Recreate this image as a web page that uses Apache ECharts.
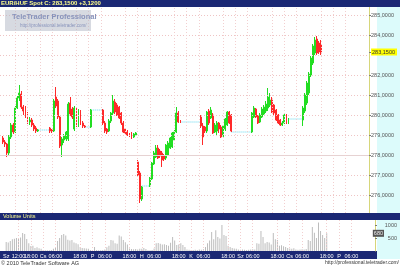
<!DOCTYPE html>
<html><head><meta charset="utf-8">
<script src="https://cdn.jsdelivr.net/npm/echarts@6/dist/echarts.min.js"></script>
<style>html,body{margin:0;padding:0;background:#fff}#c{width:400px;height:266px}</style>
</head><body><div id="c"></div>
<script>
// ---- data ----
const title = 'EUR/HUF Spot C: 283,1500 +3,1200';
const dayNames = ['Sz','Cs','P','H','K','Sz','Cs','P'];
const firstHour = 5, lastHour = 17;
const priceTicks = [276,277,278,279,280,281,282,284,285];
const priceGrid = [276,277,278,279,280,281,282,283,284,285];
const lastPrice = 283.15;
const volTicks = [500,1000];
const lastVolume = 680;
const extraTimeLabels = [[1,'Sz'],[7,'12:00']];
// [open, close, low, high] per hour slot, '-' = no trading
const ohlc = [
 '-',
 [278.85,278.65,278.55,278.95],[278.65,278.55,278.4,278.75],[278.55,278.1,277.9,278.6],[278.1,278.9,278.0,279.0],
 [278.9,279.5,278.8,279.6],[279.5,279.15,279.05,279.6],[279.15,280.35,279.1,280.45],[280.35,280.85,280.3,280.95],
 [280.85,281.1,280.7,281.5],[281.05,280.4,280.3,281.2],[280.4,280.2,280.0,280.5],[280.3,279.95,279.85,280.45],
 [280.0,279.65,279.55,280.15],[279.65,279.75,279.5,279.9],[279.75,279.5,279.4,279.85],[279.5,279.3,279.2,279.6],
 [279.35,279.2,279.1,279.45],[279.2,279.25,279.15,279.3],
 '-','-','-','-','-',
 [279.35,279.2,279.1,279.4],[279.25,279.2,279.1,279.3],[279.2,280.7,279.15,280.8],[280.9,280.45,280.35,281.4],
 [280.7,279.9,279.8,280.8],[279.9,278.45,278.35,279.95],[278.5,278.8,277.9,278.9],[278.75,278.95,278.6,279.05],
 [278.8,279.15,278.7,279.2],[278.8,280.55,278.7,280.65],[280.6,280.05,279.95,280.9],[280.3,279.9,279.8,280.4],
 [279.3,280.35,279.2,280.45],[280.3,279.45,279.4,280.35],[279.45,280.2,279.4,280.3],[280.2,279.6,279.5,280.25],
 [279.6,279.45,279.35,279.7],[279.45,279.4,279.35,279.5],
 '-','-',
 [279.4,280.25,279.35,280.3],
 '-','-','-','-','-',
 [280.25,279.6,279.5,280.3],[279.6,279.2,279.1,279.7],[279.3,279.15,279.05,279.35],[279.2,279.7,279.15,279.8],
 [279.7,280.1,279.6,280.15],[280.1,280.7,280.0,281.0],[280.65,280.15,280.05,280.8],[280.5,280.0,279.95,280.6],
 [280.4,279.85,279.8,280.45],[280.1,279.6,279.5,280.15],[279.6,279.15,279.1,279.7],[279.3,279.1,279.0,279.35],
 [279.15,279.0,278.95,279.25],[279.05,278.95,278.9,279.1],[279.1,278.85,278.8,279.15],[278.9,279.05,278.85,279.1],
 [279.0,279.1,278.95,279.15],
 [277.65,277.0,276.9,277.75],[277.1,275.8,275.6,277.2],[275.8,276.4,275.7,276.45],
 '-','-','-',
 [276.45,276.85,276.4,276.9],[276.8,277.6,276.75,277.65],[277.55,278.1,277.5,278.2],[277.9,278.35,277.85,278.5],
 [278.35,277.85,277.8,278.5],[278.2,277.95,277.85,278.3],[278.1,277.75,277.4,278.2],[277.95,277.8,277.7,278.05],
 [277.85,278.5,277.75,278.55],[278.0,278.6,277.95,278.7],[278.35,278.85,278.3,278.9],[278.4,279.1,278.35,279.15],
 [278.75,279.15,278.7,279.25],[279.15,280.1,279.1,280.4],[280.1,279.65,279.6,280.2],[279.7,279.65,279.6,279.75],
 '-','-','-','-','-','-','-','-','-',
 [279.9,279.45,279.35,280.0],[279.45,278.9,278.5,279.6],[279.4,279.2,279.1,279.45],[279.2,280.15,279.1,280.2],
 [280.2,279.6,279.5,280.3],[279.85,280.25,279.8,280.4],[280.0,279.1,279.05,280.1],[279.15,279.5,279.1,279.6],
 [279.2,279.6,279.0,279.7],[279.6,279.3,279.1,279.65],[279.4,278.9,278.85,279.5],[278.95,279.45,278.9,279.5],
 [279.3,279.8,279.2,279.85],[279.5,280.15,279.45,280.2],[280.15,279.6,279.55,280.2],[280.0,279.2,279.15,280.05],
 '-','-','-','-','-','-','-','-','-',
 [279.15,280.1,279.1,280.15],[279.9,280.35,279.85,280.45],[280.3,279.9,279.85,280.35],[279.95,279.6,279.55,280.0],
 [279.65,280.0,279.6,280.1],[279.9,280.3,279.85,280.4],[280.05,280.4,280.0,280.5],[280.2,280.55,280.1,280.7],
 [280.35,280.9,280.2,281.35],[280.5,280.75,280.4,281.1],[280.75,280.15,280.1,280.9],[280.5,280.1,280.0,280.55],
 [280.25,279.75,279.7,280.3],[280.0,279.6,279.55,280.05],[279.75,279.5,279.45,279.8],[279.5,279.6,279.45,279.7],
 [279.6,280.0,279.55,280.05],[280.0,279.6,279.55,280.05],[279.6,279.8,279.55,279.85],
 '-','-','-','-','-','-',
 [279.75,280.35,279.45,280.45],[280.2,281.0,280.1,281.1],[280.6,281.6,280.5,281.7],[281.1,282.05,281.0,282.15],
 [282.0,282.85,281.9,282.95],[282.6,283.45,282.5,283.55],[283.1,283.75,283.0,283.9],[283.8,283.1,283.0,283.95],
 [283.6,283.15,283.05,283.7],[283.5,283.15,283.0,283.75]
];
// flat no-trade stretches: [fromSlot, toSlot, price]
const gaps = [[18,24,279.25],[41,44,279.4],[44,50,280.25],[69,73,276.45],[88,98,279.65],[113,123,279.15],[141,148,279.8]];
const volume = [
 0,350,330,380,450,470,500,480,520,690,
 650,460,300,190,200,120,140,110,90,40,
 30,30,30,40,90,120,380,500,620,650,
 600,430,400,420,330,300,260,150,120,110,
 100,90,40,30,150,40,30,30,40,60,
 140,200,420,400,300,280,600,560,420,340,
 250,100,80,70,80,60,90,90,120,80,
 30,30,40,100,300,310,280,250,260,230,
 200,320,540,400,230,250,300,230,150,60,
 50,40,40,50,40,60,50,70,150,300,
 400,730,450,800,540,480,1000,620,580,200,
 150,120,100,90,60,50,60,50,40,50,
 60,70,60,300,280,770,540,300,350,330,
 250,690,450,420,200,220,180,150,120,100,
 90,110,60,50,60,70,60,80,420,380,
 920,700,500,1100,770,620,500,680
];

// ---- axis building ----
const categories = [];
const hourOf = [];
dayNames.forEach((d, i) => {
  const h0 = i === 0 ? firstHour : 0;
  const h1 = i === dayNames.length - 1 ? lastHour : 23;
  for (let h = h0; h <= h1; h++) {
    categories.push(d + ' ' + String(h).padStart(2, '0') + ':00');
    hourOf.push(h);
  }
});
const labelMap = {};
categories.forEach((c, i) => {
  const h = hourOf[i];
  if (h === 0) labelMap[i] = c.split(' ')[0];
  else if (h === 6 || h === 18) labelMap[i] = c.split(' ')[1];
});
extraTimeLabels.forEach(([i, t]) => { labelMap[i] = t; });
const gridSlots = Object.keys(labelMap).map(Number).filter(i => i !== 1);

const fmtPrice = v => v.toFixed(4).replace('.', ',');
const FONT = 'Liberation Sans';
const NAVY = '#1b2874';
const PANEL = '#dcfbfb';

const gapSeries = gaps.map(([a, b, p]) => ({
  type: 'line', xAxisIndex: 0, yAxisIndex: 0, data: [[a, p], [b, p]],
  symbol: 'none', silent: true, z: 1,
  lineStyle: { color: '#5fd8ee', width: 1, type: [1, 1] }
}));

const vLineStyle = { color: '#f2cfcf', width: 1, type: [1, 2] };

const option = {
  animation: false,
  backgroundColor: '#ffffff',
  grid: [
    { left: 0, right: 23, top: 7, height: 206 },
    { left: 0, right: 23, top: 220, height: 31 }
  ],
  xAxis: [
    { type: 'category', gridIndex: 0, data: categories, boundaryGap: true,
      axisLine: { show: false }, axisTick: { show: false }, axisLabel: { show: false }, splitLine: { show: false } },
    { type: 'category', gridIndex: 1, data: categories, boundaryGap: true,
      axisLine: { show: false }, axisTick: { show: false }, splitLine: { show: false },
      axisLabel: { show: true, interval: (i) => labelMap[i] !== undefined,
        formatter: (v, i) => labelMap[i] || '', color: '#ffffff', fontSize: 5.5, fontFamily: FONT, margin: 2 } }
  ],
  yAxis: [
    { type: 'value', gridIndex: 0, position: 'right', min: 275.1, max: 285.4,
      axisLine: { show: true, lineStyle: { color: '#d6d67a', width: 1 } },
      axisTick: { show: true, customValues: priceTicks.concat([lastPrice]), length: 2, lineStyle: { color: '#777' } },
      splitLine: { show: false },
      axisLabel: { customValues: priceTicks.concat([lastPrice]), margin: 2, fontSize: 5.5, fontFamily: FONT, color: '#555',
        formatter: v => Math.abs(v - lastPrice) < 1e-9 ? '{hl|' + fmtPrice(v) + '}' : fmtPrice(v),
        rich: { hl: { backgroundColor: '#ffff00', color: '#333', fontSize: 5.5, fontFamily: FONT, padding: [1, 2, 0, 1] } } } },
    { type: 'value', gridIndex: 1, position: 'right', min: 0, max: 1192,
      axisLine: { show: true, lineStyle: { color: '#d6d67a', width: 1 } },
      axisTick: { show: true, customValues: volTicks, length: 2, lineStyle: { color: '#777' } },
      splitLine: { show: false },
      axisLabel: { customValues: volTicks.concat([lastVolume]), margin: 22, align: 'right', fontSize: 5.5, fontFamily: FONT, color: '#555',
        formatter: v => v === lastVolume ? '{hl|' + v + '}{sp|}' : String(v),
        rich: { hl: { backgroundColor: '#555', color: '#eee', fontSize: 5.5, fontFamily: FONT, padding: [1, 1, 0, 1] }, sp: { width: 13 } } } }
  ],
  graphic: [
    { type: 'rect', shape: { x: 377, y: 7, width: 23, height: 252 }, style: { fill: PANEL }, z: -10, silent: true },
    { type: 'rect', shape: { x: 0, y: 0, width: 400, height: 7 }, style: { fill: NAVY }, z: 50, silent: true },
    { type: 'text', x: 1, y: 0.5, style: { text: title, fill: '#ffff8c', font: 'bold 6px ' + FONT }, z: 51, silent: true },
    { type: 'rect', shape: { x: 0, y: 213, width: 400, height: 7 }, style: { fill: NAVY }, z: 50, silent: true },
    { type: 'text', x: 3, y: 213.8, style: { text: 'Volume Units', fill: '#ffff8c', font: '5.5px ' + FONT }, z: 51, silent: true },
    { type: 'rect', shape: { x: 0, y: 251, width: 377, height: 8 }, style: { fill: NAVY }, z: -5, silent: true },
    { type: 'rect', shape: { x: 5, y: 10, width: 86, height: 21 }, style: { fill: 'rgba(176,182,196,0.5)' }, z: 60, silent: true },
    { type: 'text', x: 12, y: 13, style: { text: 'TeleTrader Professional', fill: '#8893bb', font: 'bold 7.5px ' + FONT }, z: 61, silent: true },
    { type: 'text', x: 20, y: 23.5, style: { text: 'http://professional.teletrader.com/', fill: '#8893bb', font: '4.5px ' + FONT }, z: 61, silent: true },
    { type: 'text', x: 1, y: 260, style: { text: '\u00a9 2010 TeleTrader Software AG', fill: '#333', font: '5.5px ' + FONT }, z: 61, silent: true },
    { type: 'text', x: 399, y: 260, style: { text: 'http://professional.teletrader.com/', fill: '#333', font: '5px ' + FONT, align: 'right' }, z: 61, silent: true }
  ],
  series: [
    { type: 'candlestick', xAxisIndex: 0, yAxisIndex: 0, data: ohlc, barWidth: 1.4, z: 3,
      itemStyle: { color: '#22dd22', color0: '#ff2a2a', borderColor: '#22dd22', borderColor0: '#ff2a2a', borderWidth: 1 },
      markLine: { silent: true, symbol: 'none', animation: false, label: { show: false },
        data: priceGrid.map(v => ({ yAxis: v, lineStyle: { color: v === 278 ? '#e6d2d2' : '#efc4c4', width: 1, type: v === 278 ? 'solid' : [1, 2] } }))
          .concat(gridSlots.map(i => ({ xAxis: i, lineStyle: vLineStyle }))) } },
    ...gapSeries,
    { type: 'bar', xAxisIndex: 1, yAxisIndex: 1, data: volume, barWidth: 1, itemStyle: { color: '#bcbcbc' }, z: 3,
      markLine: { silent: true, symbol: 'none', animation: false, label: { show: false },
        data: gridSlots.map(i => ({ xAxis: i, lineStyle: vLineStyle })) } }
  ]
};
const chart = echarts.init(document.getElementById('c'), null, { renderer: 'canvas' });
chart.setOption(option);
</script></body></html>
